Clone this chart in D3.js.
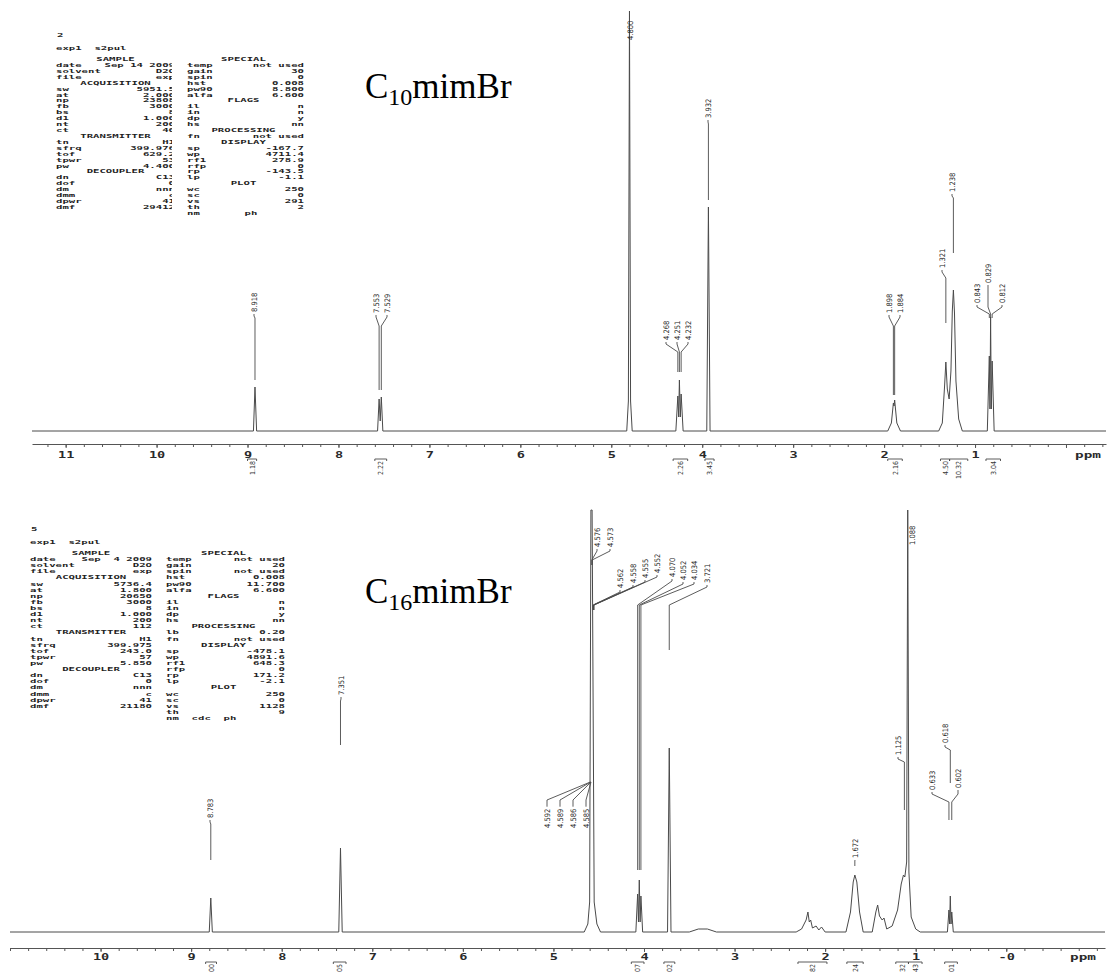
<!DOCTYPE html>
<html>
<head>
<meta charset="utf-8">
<script src="https://cdn.jsdelivr.net/npm/d3@7"></script>
<style>
body { margin: 0; background: #fff; }
svg { display: block; }
.prm { font-family: "DejaVu Sans Mono", monospace; font-weight: bold; font-size: 7.5px; fill: #1e1e1e; white-space: pre; }
.axis path, .axis line { stroke: #555; stroke-width: 1; }
.axis text, .ppm { font-family: "DejaVu Sans Mono", monospace; font-weight: bold; font-size: 8.5px; fill: #2a2a2a; }
.plab { font-family: "DejaVu Sans Condensed", "DejaVu Sans", sans-serif; font-size: 7.5px; fill: #262626; }
.ilab { font-family: "DejaVu Sans Condensed", "DejaVu Sans", sans-serif; font-size: 7px; fill: #333; }
.lead { fill: none; stroke: #4a4a4a; stroke-width: 0.9; }
.spec { fill: none; stroke: #4a4a4a; stroke-width: 1; }
.title { font-family: "Liberation Serif", "Times New Roman", serif; font-size: 35px; fill: #000; }
</style>
</head>
<body>
<script>
var W = 1109, H = 973;

// C10mimBr spectrum, ppm and intensity
var c10Ppm = [11.37, 8.935, 8.918, 8.900, 7.57, 7.553, 7.541, 7.529, 7.512, 4.83, 4.812, 4.800, 4.788, 4.77,
  4.29, 4.268, 4.259, 4.251, 4.241, 4.232, 4.21, 3.95, 3.932, 3.914, 1.96, 1.92, 1.898, 1.891, 1.884, 1.86, 1.82,
  1.40, 1.36, 1.335, 1.321, 1.305, 1.285, 1.265, 1.25, 1.238, 1.226, 1.21, 1.18, 1.14,
  0.865, 0.843, 0.836, 0.829, 0.821, 0.812, 0.79, -0.44];
var c10Int = [0, 0, 44, 0, 0, 32, 10, 34, 0, 0, 30, 420, 30, 0,
  0, 35, 14, 51, 14, 37, 0, 0, 224, 0, 0, 8, 28, 25, 31, 8, 0,
  0, 8, 45, 69, 42, 32, 60, 120, 141, 118, 50, 12, 0,
  0, 75, 22, 114, 22, 70, 0, 0];

// C16mimBr spectrum
var c16Ppm = [11.0, 8.80, 8.783, 8.766, 7.37, 7.351, 7.332, 4.66, 4.62, 4.60, 4.586, 4.580, 4.573, 4.55, 4.52, 4.48,
  4.09, 4.070, 4.061, 4.052, 4.043, 4.034, 4.015, 3.74, 3.721, 3.702, 3.5, 3.4, 3.3, 3.2,
  2.32, 2.26, 2.21, 2.19, 2.175, 2.16, 2.14, 2.10, 2.07, 2.04, 2.0,
  1.77, 1.72, 1.69, 1.672, 1.65, 1.62, 1.58, 1.48, 1.44, 1.42, 1.40, 1.37, 1.35, 1.32,
  1.26, 1.20, 1.16, 1.135, 1.12, 1.10, 1.088, 1.075, 1.05, 1.0, 0.95,
  0.65, 0.633, 0.626, 0.618, 0.610, 0.602, 0.585, -1.09];
var c16Int = [0, 0, 34, 0, 0, 84, 0, 0, 8, 30, 422, 422, 422, 30, 8, 0,
  0, 38, 10, 52, 10, 36, 0, 0, 184, 0, 0, 3, 3, 0,
  0, 3, 12, 20, 10, 12, 4, 6, 2, 5, 0,
  0, 20, 50, 57, 50, 20, 0, 0, 20, 27, 16, 12, 14, 3,
  6, 22, 48, 57, 55, 70, 422, 60, 15, 3, 0,
  0, 22, 8, 36, 8, 20, 0, 0];

// peak picks
var c10Peaks = [8.918, 7.553, 7.529, 4.800, 4.268, 4.251, 4.232, 3.932, 1.898, 1.884, 1.321, 1.238, 0.843, 0.829, 0.812];
var c16Peaks = [8.783, 7.351, 4.592, 4.589, 4.586, 4.585, 4.576, 4.573, 4.562, 4.558, 4.555, 4.552,
  4.070, 4.052, 4.034, 3.721, 1.672, 1.125, 1.088, 0.633, 0.618, 0.602];

// integrals
var c10IntVals = ["1.18", "2.22", "2.26", "3.45", "2.16", "4.50", "10.32", "3.04"];
var c10IntFrom = [9.00, 7.60, 4.32, 3.97, 1.96, 1.38, 1.28, 0.88];
var c10IntTo = [8.90, 7.47, 4.16, 3.87, 1.80, 1.28, 1.08, 0.72];
var c16IntVals = ["00", "05", "07", "02", "82", "24", "32", "43", "01"];
var c16IntFrom = [8.84, 7.43, 4.14, 3.78, 2.30, 1.76, 1.22, 1.08, 0.68];
var c16IntTo = [8.72, 7.29, 4.00, 3.66, 1.98, 1.58, 1.08, 0.93, 0.54];

// axis ticks
var c10Majors = [11, 10, 9, 8, 7, 6, 5, 4, 3, 2, 1, 0];
var c10TickLabels = ["11", "10", "9", "8", "7", "6", "5", "4", "3", "2", "1", ""];
var c16Majors = [10, 9, 8, 7, 6, 5, 4, 3, 2, 1, 0];
var c16TickLabels = ["10", "9", "8", "7", "6", "5", "4", "3", "2", "1", "-0"];

// acquisition parameter printouts
var c10ParamLeft = [["SAMPLE"], ["date", "Sep 14 2009"], ["solvent", "D2O"], ["file", "exp"], ["ACQUISITION"],
  ["sw", "5951.5"], ["at", "2.000"], ["np", "23808"], ["fb", "3000"], ["bs", "8"], ["d1", "1.000"], ["nt", "200"],
  ["ct", "40"], ["TRANSMITTER"], ["tn", "H1"], ["sfrq", "399.976"], ["tof", "629.2"], ["tpwr", "53"], ["pw", "4.400"],
  ["DECOUPLER"], ["dn", "C13"], ["dof", "0"], ["dm", "nnn"], ["dmm", "c"], ["dpwr", "41"], ["dmf", "29412"]];
var c10ParamRight = [["SPECIAL"], ["temp", "not used"], ["gain", "30"], ["spin", "0"], ["hst", "0.008"],
  ["pw90", "8.800"], ["alfa", "6.600"], ["FLAGS"], ["il", "n"], ["in", "n"], ["dp", "y"], ["hs", "nn"],
  ["PROCESSING"], ["fn", "not used"], ["DISPLAY"], ["sp", "-167.7"], ["wp", "4711.4"], ["rf1", "278.9"],
  ["rfp", "0"], ["rp", "-143.5"], ["lp", "-1.1"], ["PLOT"], ["wc", "250"], ["sc", "0"], ["vs", "291"],
  ["th", "2"], ["nm", "", "     ph"]];
var c16ParamLeft = [["SAMPLE"], ["date", "Sep  4 2009"], ["solvent", "D2O"], ["file", "exp"], ["ACQUISITION"],
  ["sw", "5736.4"], ["at", "1.800"], ["np", "20650"], ["fb", "3000"], ["bs", "8"], ["d1", "1.000"], ["nt", "200"],
  ["ct", "112"], ["TRANSMITTER"], ["tn", "H1"], ["sfrq", "399.975"], ["tof", "243.0"], ["tpwr", "57"], ["pw", "5.850"],
  ["DECOUPLER"], ["dn", "C13"], ["dof", "0"], ["dm", "nnn"], ["dmm", "c"], ["dpwr", "41"], ["dmf", "21180"]];
var c16ParamRight = [["SPECIAL"], ["temp", "not used"], ["gain", "20"], ["spin", "not used"], ["hst", "0.008"],
  ["pw90", "11.700"], ["alfa", "6.600"], ["FLAGS"], ["il", "n"], ["in", "n"], ["dp", "y"], ["hs", "nn"],
  ["PROCESSING"], ["lb", "0.20"], ["fn", "not used"], ["DISPLAY"], ["sp", "-478.1"], ["wp", "4891.6"],
  ["rf1", "648.3"], ["rfp", "0"], ["rp", "171.2"], ["lp", "-2.1"], ["PLOT"], ["wc", "250"], ["sc", "0"],
  ["vs", "1128"], ["th", "9"], ["nm", "", "cdc  ph"]];

// label placement: [label x, label bottom, elbow y, join y, end y]
var c10Layout = [[254, 312, 316, 318, 380], [376, 313, 317, 326, 390], [387, 313, 317, 326, 390], [630, 40],
  [666, 340, 344, 352, 372], [677, 340, 344, 352, 372], [688, 340, 344, 352, 372], [708, 118, 122, 124, 200],
  [889, 313, 317, 326, 395], [900, 313, 317, 326, 395], [942, 268, 272, 278, 323], [952, 192, 196, 198, 253],
  [977, 303, 307, 314, 318], [988, 283, 307, 314, 318], [1002, 303, 307, 314, 318]];
var c16Layout = [[210, 818, 822, 824, 860], [341, 695, 699, 701, 745],
  [547, 828, 800, 782, 782], [560, 828, 800, 782, 782], [573, 828, 800, 782, 782], [586, 828, 800, 782, 782],
  [597, 547, 551, 560, 565], [610, 547, 551, 560, 565],
  [620, 588, 592, 605, 610], [633, 583, 587, 605, 610], [645, 578, 582, 605, 610], [657, 573, 577, 605, 610],
  [672, 577, 581, 605, 870], [683, 580, 584, 605, 870], [694, 580, 584, 605, 870], [707, 583, 587, 605, 650],
  [855, 858, 860, 861, 866], [898, 755, 759, 762, 810], [912, 545],
  [932, 790, 794, 802, 820], [945, 743, 747, 750, 783], [958, 788, 794, 802, 820]];

var svg = d3.select("body").append("svg").attr("width", W).attr("height", H);
svg.append("rect").attr("width", W).attr("height", H).attr("fill", "#fff");

// the printout is one text element per block, columns as tspans; wide squat glyphs like the plotter font
function drawParams(hdr, exp, x0, y0, pitch, leftR, rightL, rightR, left, right, clipX) {
  var sx = 1.42, sy = 0.66;
  var g = svg.append("g");
  if (clipX) {
    var id = "clip" + Math.round(y0);
    var cp = svg.append("clipPath").attr("id", id);
    cp.append("rect").attr("x", 0).attr("y", 0).attr("width", clipX).attr("height", H);
    cp.append("rect").attr("x", clipX + 8).attr("y", 0).attr("width", W).attr("height", H);
    g.attr("clip-path", "url(#" + id + ")");
  }
  var t = g.append("text").attr("class", "prm").attr("transform", "scale(" + sx + "," + sy + ")");
  var colL = (x0 + leftR) / 2, colR = (rightL + rightR) / 2 - 2;
  function put(x, y, s, anchor) {
    t.append("tspan").attr("x", x / sx).attr("y", y / sy).attr("text-anchor", anchor).text(s);
  }
  put(x0 + 1, y0 - 24, hdr, "start");
  put(x0, y0 - 11, exp, "start");
  left.forEach(function(r, i) {
    var y = y0 + i * pitch;
    if (r.length === 1) { put(colL, y, r[0], "middle"); return; }
    put(x0, y, r[0], "start");
    put(leftR, y, r[1], "end");
  });
  right.forEach(function(r, i) {
    var y = y0 + i * pitch;
    if (r.length === 1) { put(colR, y, r[0], "middle"); return; }
    put(rightL, y, r[0], "start");
    if (r.length === 3) { put(rightL + 25.6, y, r[2], "start"); return; }
    put(rightR, y, r[1], "end");
  });
}

function drawSpectrum(x, y, ppm, inten) {
  var line = d3.line().x(function(d) { return x(d[0]); }).y(function(d) { return y(d[1]); });
  svg.append("path").attr("class", "spec").attr("d", line(d3.zip(ppm, inten)));
}

function drawAxis(x, yAx, majors, labels, ppmX, pad) {
  var dom = x.domain();
  var minors = d3.range(Math.ceil(dom[1] * 5), Math.floor(dom[0] * 5) + 1).map(function(v) { return v / 5; });
  svg.append("g").attr("class", "axis").attr("transform", "translate(0," + yAx + ")")
    .call(d3.axisBottom(x).tickValues(minors).tickSize(3).tickSizeOuter(0).tickFormat(""));
  var g = svg.append("g").attr("class", "axis").attr("transform", "translate(0," + yAx + ")")
    .call(d3.axisBottom(x).tickValues(majors).tickSize(4).tickSizeOuter(0).tickPadding(pad)
      .tickFormat(function(d, i) { return labels[i]; }));
  g.select(".domain").remove();
  g.selectAll("text").attr("transform", "scale(1.6,1)");
  svg.append("text").attr("class", "ppm")
    .attr("transform", "translate(" + ppmX + "," + (yAx + 4 + pad + 6) + ") scale(1.7,1)")
    .attr("text-anchor", "middle").text("ppm");
}

function drawPeakLabels(x, peaks, lay) {
  var g = svg.append("g");
  peaks.forEach(function(p, i) {
    var L = lay[i];
    var t = g.append("text").attr("class", "plab")
      .attr("transform", "translate(" + (L[0] + 2.5) + "," + L[1] + ") rotate(-90)")
      .text(p.toFixed(3));
    if (L.length < 3) return;
    var len = t.node().getComputedTextLength();
    var px = x(p);
    var y0 = L[4] < L[1] ? L[1] - len - 2 : L[1] + 2;
    g.append("path").attr("class", "lead")
      .attr("d", "M" + L[0] + "," + y0 + "V" + L[2] + "L" + px + "," + L[3] + "V" + L[4]);
  });
}

function drawIntegrals(x, yb, vals, from, to) {
  var g = svg.append("g");
  vals.forEach(function(v, i) {
    var a = x(from[i]), b = x(to[i]);
    g.append("path").attr("class", "lead").attr("d", "M" + a + "," + (yb + 2) + "V" + yb + "H" + b + "V" + (yb + 2));
    g.append("text").attr("class", "ilab")
      .attr("transform", "translate(" + ((a + b) / 2 + 2.5) + "," + (yb + 2) + ") rotate(-90)")
      .attr("text-anchor", "end").text(v);
  });
}

function drawTitle(x, y, sub) {
  var t = svg.append("text").attr("class", "title").attr("x", x).attr("y", y);
  t.append("tspan").text("C");
  t.append("tspan").attr("dy", 7).style("font-size", "24px").text(sub);
  t.append("tspan").attr("dy", -7).text("mimBr");
}

// upper spectrum: C10mimBr
var xTop = d3.scaleLinear().domain([11.37, -0.44]).range([32, 1106]);
var yTop = d3.scaleLinear().domain([0, 420]).range([431, 11]);
drawParams("2", "exp1  s2pul", 56, 61, 5.92, 175, 187, 304, c10ParamLeft, c10ParamRight, 172);
drawSpectrum(xTop, yTop, c10Ppm, c10Int);
drawAxis(xTop, 444, c10Majors, c10TickLabels, 1088, 4);
drawPeakLabels(xTop, c10Peaks, c10Layout);
drawIntegrals(xTop, 459, c10IntVals, c10IntFrom, c10IntTo);
drawTitle(365, 98, "10");

// lower spectrum: C16mimBr
var xBot = d3.scaleLinear().domain([11.0, -1.09]).range([10, 1105]);
var yBot = d3.scaleLinear().domain([0, 422]).range([932, 510]);
drawParams("5", "exp1  s2pul", 30, 555, 6.11, 152, 166, 285, c16ParamLeft, c16ParamRight, null);
drawSpectrum(xBot, yBot, c16Ppm, c16Int);
drawAxis(xBot, 948, c16Majors, c16TickLabels, 1083, 1.5);
drawPeakLabels(xBot, c16Peaks, c16Layout);
drawIntegrals(xBot, 962, c16IntVals, c16IntFrom, c16IntTo);
drawTitle(365, 603, "16");
</script>
</body>
</html>
